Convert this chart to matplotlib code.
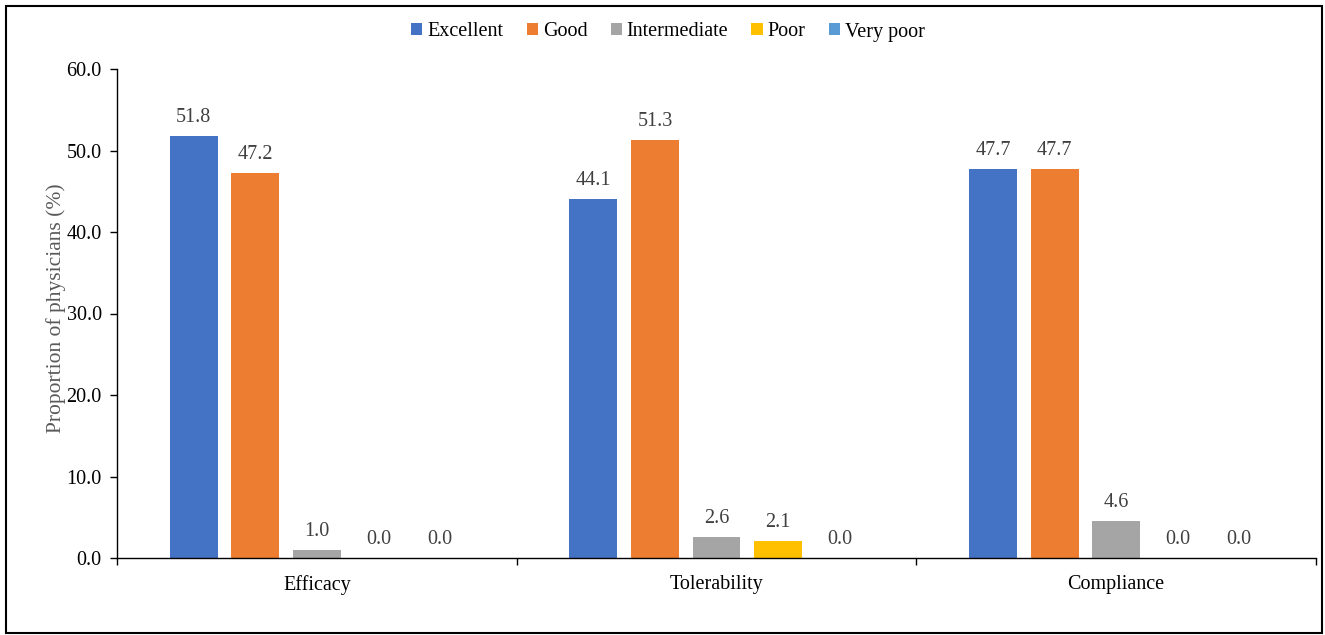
import matplotlib
matplotlib.use("Agg")
import matplotlib.pyplot as plt
from matplotlib.patches import Rectangle
import numpy as np

plt.rcParams['font.family'] = ['Liberation Serif', 'DejaVu Serif']

categories = ["Efficacy", "Tolerability", "Compliance"]
series_names = ["Excellent", "Good", "Intermediate", "Poor", "Very poor"]
excellent = [51.8, 44.1, 47.7]
good = [47.2, 51.3, 47.7]
intermediate = [1.0, 2.6, 4.6]
poor = [0.0, 2.1, 0.0]
very_poor = [0.0, 0.0, 0.0]
yticks = [0, 10, 20, 30, 40, 50, 60]

series = [excellent, good, intermediate, poor, very_poor]
colors = ["#4472C4", "#ED7D31", "#A5A5A5", "#FFC000", "#5B9BD5"]
fs = 14.5

fig = plt.figure(figsize=(13.25, 6.35), dpi=100)
ax = fig.add_axes([117/1325, 1-558/635, (1316-117)/1325, (558-69)/635])

x = np.arange(len(categories))
step = 0.154
width = 0.12
for i, (vals, name, col) in enumerate(zip(series, series_names, colors)):
    pos = x + (i - 2) * step
    bars = ax.bar(pos, vals, width, color=col, label=name, zorder=2)
    for b, v in zip(bars, vals):
        ax.text(b.get_x() + b.get_width()/2, v + 1.1, f"{v:.1f}",
                ha="center", va="bottom", fontsize=fs, color="#404040")

ax.set_xlim(-0.5, 2.5)
ax.set_ylim(0, 60)
ax.set_yticks(yticks)
ax.set_yticklabels([f"{t:.1f}" for t in yticks], fontsize=fs)
ax.set_xticks(x)
ax.set_xticklabels(categories, fontsize=fs)
ax.tick_params(axis="x", which="major", length=0, pad=12)
ax.set_xticks([-0.5, 0.5, 1.5, 2.5], minor=True)
ax.tick_params(axis="x", which="minor", length=5, width=1, direction="out")
ax.tick_params(axis="y", length=5, width=1, direction="out", pad=6)
for s in ["top", "right"]:
    ax.spines[s].set_visible(False)
ax.spines["left"].set_linewidth(1)
ax.spines["bottom"].set_linewidth(1)
ax.set_ylabel("Proportion of physicians (%)", fontsize=15.5, color="#595959", labelpad=4)
ax.yaxis.set_label_coords(-51/1199, 0.51)

fig.legend(loc="center", bbox_to_anchor=(668/1325, 1-32/635), ncol=5, frameon=False,
           fontsize=fs, handlelength=0.55, handleheight=0.55, handletextpad=0.25,
           columnspacing=1.15)

fig.patches.append(Rectangle((6/1325, 2/635), 1316/1325, 627/635, transform=fig.transFigure,
                             fill=False, edgecolor="black", linewidth=1.5))

fig.savefig("out.png", dpi=100)
